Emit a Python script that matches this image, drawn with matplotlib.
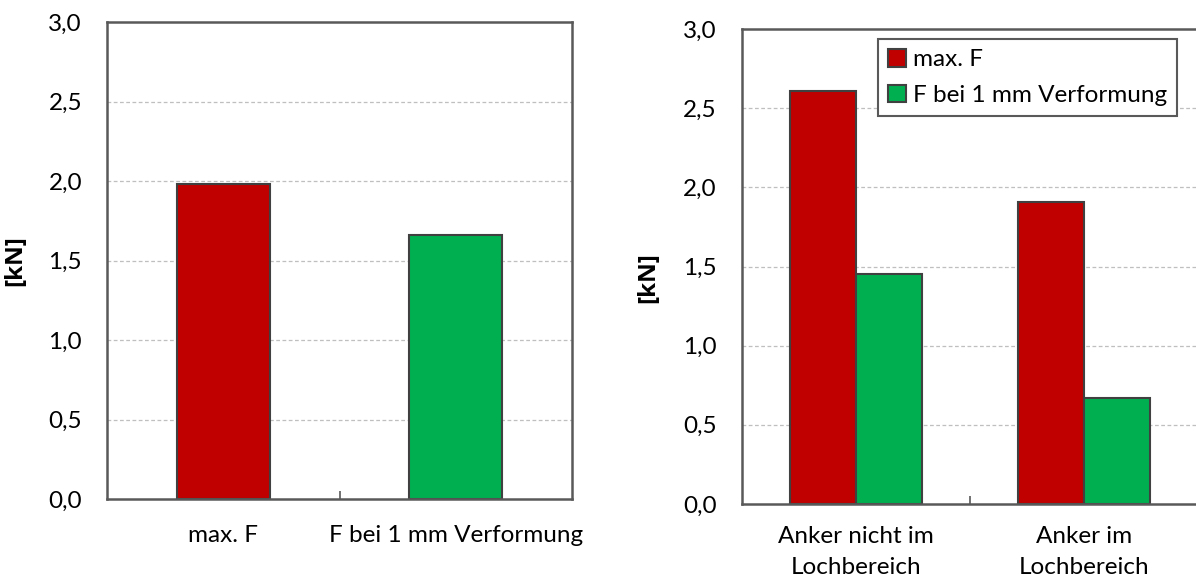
import numpy as np
import matplotlib
matplotlib.use('Agg')
import matplotlib.pyplot as plt

plt.rcParams['font.family'] = ['Lato', 'DejaVu Sans']

# data
left_labels = ['max. F', 'F bei 1 mm Verformung']
left_values = [1.98, 1.66]

right_labels = ['Anker nicht im\nLochbereich', 'Anker im\nLochbereich']
max_f = [2.61, 1.91]
f_1mm = [1.45, 0.67]
series_names = ['max. F', 'F bei 1 mm Verformung']

y_ticks = [0.0, 0.5, 1.0, 1.5, 2.0, 2.5, 3.0]
y_ticklabels = ['0,0', '0,5', '1,0', '1,5', '2,0', '2,5', '3,0']

red = '#C00000'
green = '#00B050'
edge = '#404040'
spine_col = '#595959'
fs = 17.5

W, H = 1196, 585
fig = plt.figure(figsize=(W / 100, H / 100), dpi=100)


def px_axes(x0, y0, x1, y1):
    # pixel box (top-left origin) -> figure axes
    return fig.add_axes([x0 / W, 1 - y1 / H, (x1 - x0) / W, (y1 - y0) / H])


def style(ax):
    ax.set_ylim(0, 3.0)
    ax.set_xlim(-0.5, 1.5)
    ax.set_yticks(y_ticks)
    ax.set_yticklabels(y_ticklabels, fontsize=fs)
    ax.tick_params(axis='y', length=0, pad=18)
    ax.tick_params(axis='x', which='major', length=0, labelsize=fs, pad=19)
    ax.set_xticks([0.5], minor=True)
    ax.tick_params(axis='x', which='minor', direction='in', length=6,
                   width=1.2, color=spine_col)
    for g in y_ticks[1:-1]:
        ax.axhline(g, color='#BFBFBF', lw=0.9, ls=(0, (3, 2)), zorder=0)
    for s in ax.spines.values():
        s.set_color(spine_col)
        s.set_linewidth(1.8)
    ax.set_ylabel('[kN]', fontsize=fs, fontweight='bold',
                  family=['Open Sans', 'DejaVu Sans'])


# left chart
ax1 = px_axes(107, 22, 572, 499)
x = np.arange(len(left_labels))
ax1.bar(x, left_values, width=0.40, color=[red, green], edgecolor=edge,
        linewidth=1.5, zorder=2)
ax1.set_xticks(x)
ax1.set_xticklabels(left_labels)
style(ax1)
ax1.yaxis.set_label_coords(-0.172, 0.5)

# right chart
ax2 = px_axes(742, 29, 1198, 504)
x = np.arange(len(right_labels))
w = 0.29
ax2.bar(x - w / 2, max_f, width=w, color=red, edgecolor=edge,
        linewidth=1.5, zorder=2, label=series_names[0])
ax2.bar(x + w / 2, f_1mm, width=w, color=green, edgecolor=edge,
        linewidth=1.5, zorder=2, label=series_names[1])
ax2.set_xticks(x)
ax2.set_xticklabels(right_labels, linespacing=1.6)
style(ax2)
ax2.tick_params(axis='x', which='major', pad=16)
ax2.yaxis.set_label_coords(-0.18, 0.476)

leg = ax2.legend(loc='upper left', bbox_to_anchor=((878 - 742) / 456, 1 - (39 - 29) / 475),
                 fontsize=fs, frameon=True, fancybox=False, framealpha=1,
                 edgecolor=spine_col, borderpad=0.4, handlelength=0.75,
                 handleheight=0.75, handletextpad=0.3, labelspacing=0.6,
                 borderaxespad=0)
leg.get_frame().set_linewidth(1.5)

fig.savefig('out.png', dpi=100)
